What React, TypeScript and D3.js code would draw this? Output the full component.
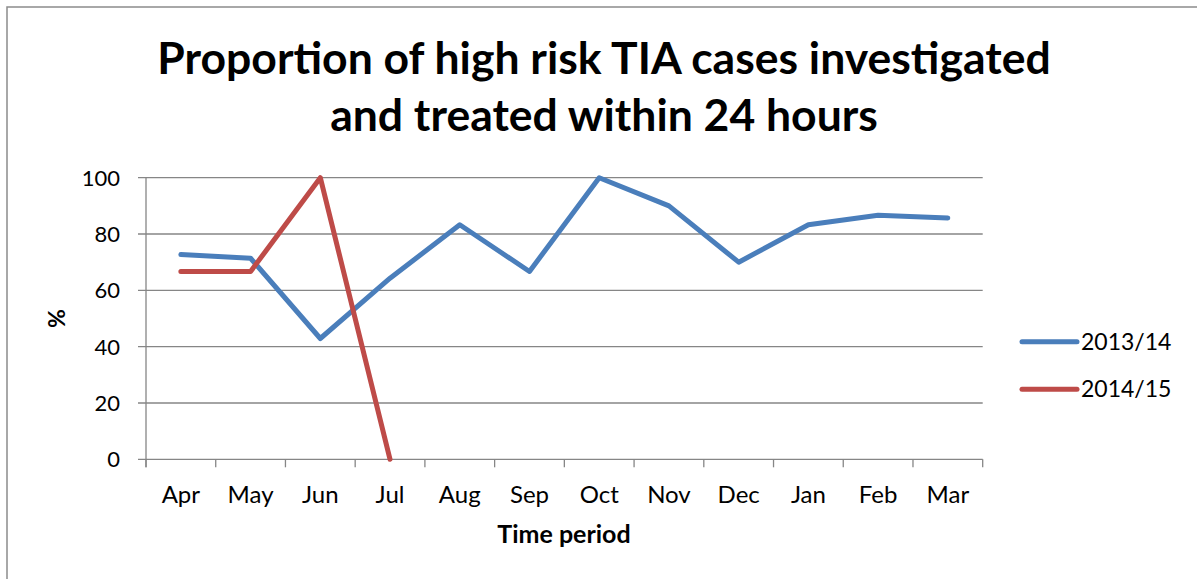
import { useEffect, useRef } from 'react';
import * as d3 from 'd3';

const months = ['Apr', 'May', 'Jun', 'Jul', 'Aug', 'Sep', 'Oct', 'Nov', 'Dec', 'Jan', 'Feb', 'Mar'];
const series1314 = [72.7, 71.4, 42.9, 64.3, 83.3, 66.7, 100, 90, 70, 83.3, 86.7, 85.7];
const series1415 = [66.7, 66.7, 100, 0];
const seriesNames = ['2013/14', '2014/15'];
const seriesColors = ['#4a7ebb', '#be4b48'];
const yTicks = [0, 20, 40, 60, 80, 100];
const titleLines = ['Proportion of high risk TIA cases investigated', 'and treated within 24 hours'];

const W = 1197;
const H = 579;
const FONT = 'Lato, "Open Sans", sans-serif';

export default function App() {
  const svgRef = useRef<SVGSVGElement | null>(null);

  useEffect(() => {
    const svg = d3.select(svgRef.current);
    svg.selectAll('*').remove();

    const plot = { left: 146, right: 982.7, top: 177.7, bottom: 459.3 };

    // chart frame (runs off the right/bottom of the picture)
    svg.append('rect')
      .attr('x', 7).attr('y', 7)
      .attr('width', W + 20).attr('height', H + 20)
      .attr('fill', '#fff')
      .attr('stroke', '#8c8c8c')
      .attr('stroke-width', 1.5);

    // title
    svg.append('g')
      .selectAll('text')
      .data(titleLines)
      .join('text')
      .attr('x', 604)
      .attr('y', (d, i) => 74 + i * 57)
      .attr('text-anchor', 'middle')
      .style('font-family', FONT)
      .style('font-weight', 700)
      .style('font-size', '44.5px')
      .attr('fill', '#000')
      .text(d => d);

    const x = d3.scaleBand<string>()
      .domain(months)
      .range([plot.left, plot.right]);

    const y = d3.scaleLinear()
      .domain([0, 100])
      .range([plot.bottom, plot.top]);

    // gridlines
    svg.append('g')
      .selectAll('line')
      .data(yTicks)
      .join('line')
      .attr('x1', plot.left - 8)
      .attr('x2', plot.right)
      .attr('y1', d => y(d))
      .attr('y2', d => y(d))
      .attr('stroke', '#868686')
      .attr('stroke-width', 1.3);

    // y axis line
    svg.append('line')
      .attr('x1', plot.left).attr('x2', plot.left)
      .attr('y1', plot.top).attr('y2', plot.bottom + 8)
      .attr('stroke', '#868686')
      .attr('stroke-width', 1.3);

    // x ticks at band edges
    const edges = months.map(m => x(m) as number).concat([plot.right]);
    svg.append('g')
      .selectAll('line')
      .data(edges)
      .join('line')
      .attr('x1', d => d).attr('x2', d => d)
      .attr('y1', plot.bottom).attr('y2', plot.bottom + 8)
      .attr('stroke', '#868686')
      .attr('stroke-width', 1.3);

    // y tick labels
    svg.append('g')
      .selectAll('text')
      .data(yTicks)
      .join('text')
      .attr('x', 120)
      .attr('y', d => y(d) + 8)
      .attr('text-anchor', 'end')
      .style('font-family', FONT)
      .style('font-size', '22px')
      .attr('fill', '#000')
      .text(d => d);

    // x tick labels
    svg.append('g')
      .selectAll('text')
      .data(months)
      .join('text')
      .attr('x', d => (x(d) as number) + x.bandwidth() / 2)
      .attr('y', 503)
      .attr('text-anchor', 'middle')
      .style('font-family', FONT)
      .style('font-size', '24px')
      .attr('fill', '#000')
      .text(d => d);

    // axis titles
    svg.append('text')
      .attr('x', 564)
      .attr('y', 543)
      .attr('text-anchor', 'middle')
      .style('font-family', FONT)
      .style('font-weight', 700)
      .style('font-size', '25px')
      .text('Time period');

    svg.append('text')
      .attr('transform', `translate(65, ${(plot.top + plot.bottom) / 2}) rotate(-90)`)
      .attr('text-anchor', 'middle')
      .style('font-family', FONT)
      .style('font-weight', 700)
      .style('font-size', '23px')
      .text('%');

    // lines
    const line = d3.line<number>()
      .x((d, i) => (x(months[i]) as number) + x.bandwidth() / 2)
      .y(d => y(d));

    [series1314, series1415].forEach((s, i) => {
      svg.append('path')
        .datum(s)
        .attr('d', line)
        .attr('fill', 'none')
        .attr('stroke', seriesColors[i])
        .attr('stroke-width', 5)
        .attr('stroke-linejoin', 'round')
        .attr('stroke-linecap', 'round');
    });

    // legend
    const legend = svg.append('g')
      .selectAll('g')
      .data(seriesNames)
      .join('g')
      .attr('transform', (d, i) => `translate(1022, ${341.7 + i * 47.6})`);

    legend.append('line')
      .attr('x1', 0).attr('x2', 55)
      .attr('stroke', (d, i) => seriesColors[i])
      .attr('stroke-width', 5)
      .attr('stroke-linecap', 'round');

    legend.append('text')
      .attr('x', 59)
      .attr('y', 8)
      .style('font-family', FONT)
      .style('font-size', '23px')
      .attr('fill', '#000')
      .text(d => d);
  }, []);

  return (
    <svg
      ref={svgRef}
      width={W}
      height={H}
      style={{ position: 'absolute', left: 0, top: 0, display: 'block', background: '#fff' }}
    />
  );
}
